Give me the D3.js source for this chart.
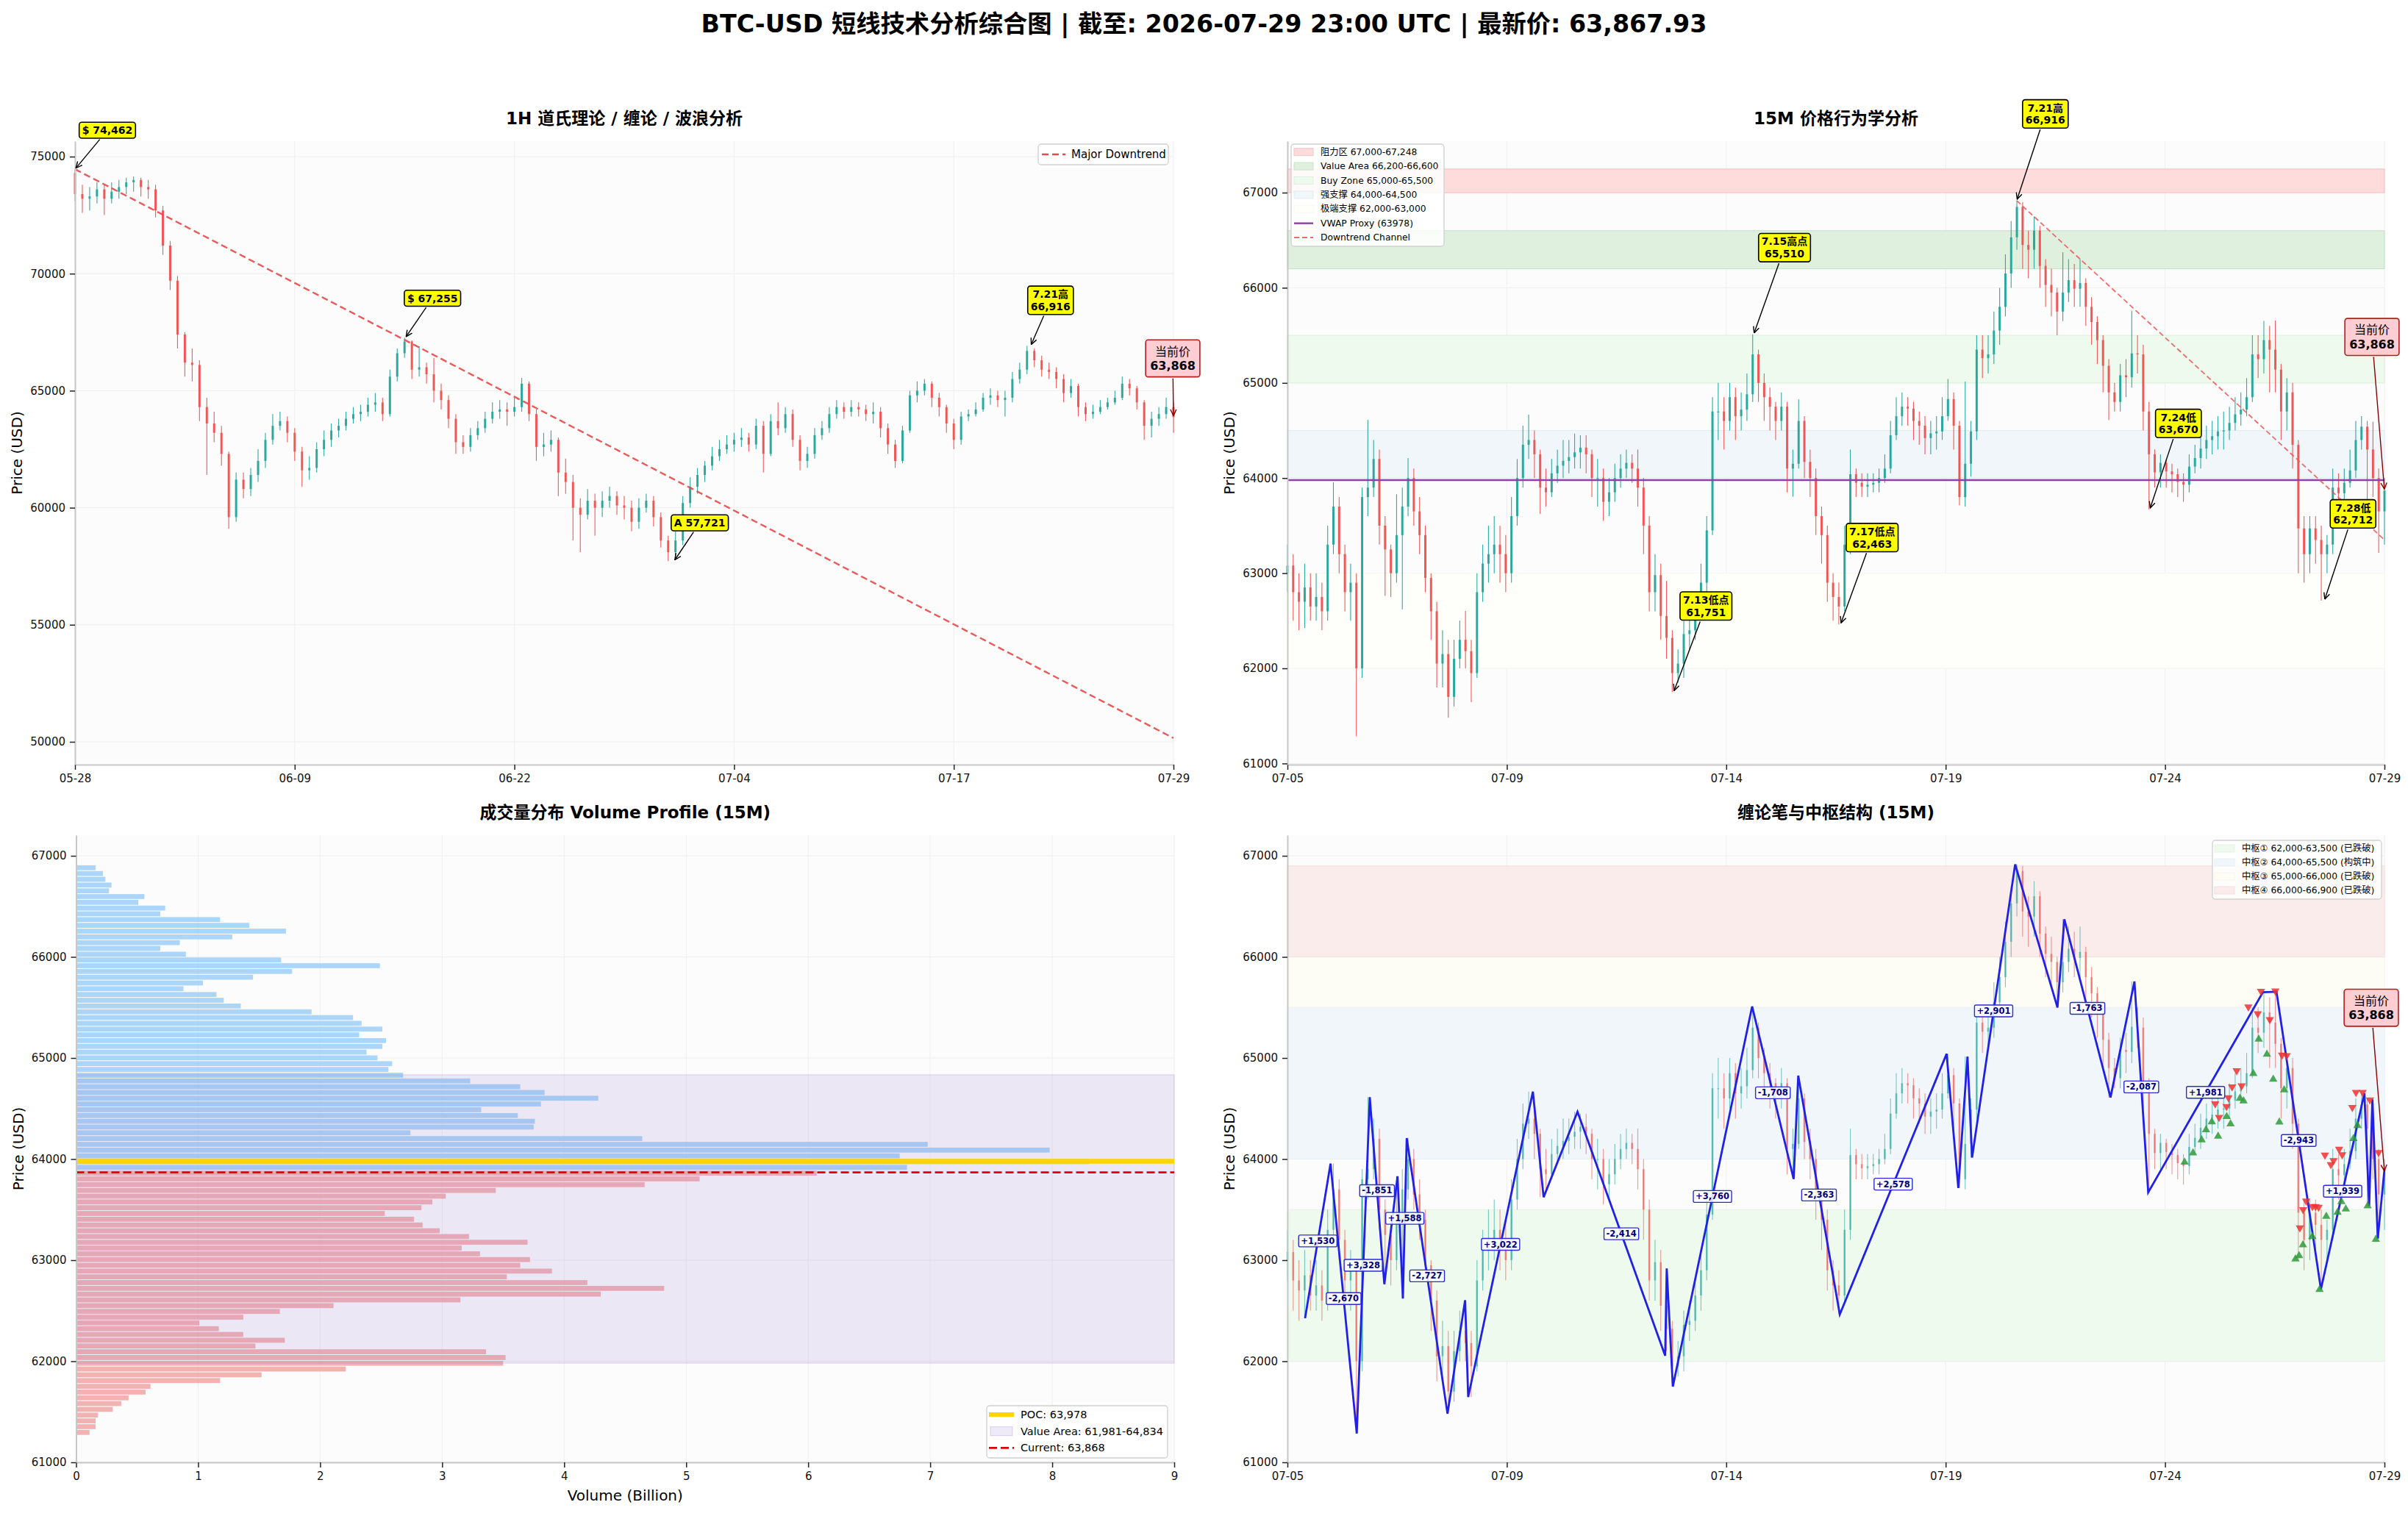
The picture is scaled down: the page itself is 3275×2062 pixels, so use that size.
<!DOCTYPE html>
<html><head><meta charset="utf-8">
<script src="https://cdn.jsdelivr.net/npm/d3@7"></script>
<style>body{margin:0;background:#fff}</style>
</head><body>
<script>
// ===================== DATA =====================
const mainTitle = "BTC-USD 短线技术分析综合图 | 截至: 2026-07-29 23:00 UTC | 最新价: 63,867.93";
const panelTitles = ["1H 道氏理论 / 缠论 / 波浪分析", "15M 价格行为学分析", "成交量分布 Volume Profile (15M)", "缠论笔与中枢结构 (15M)"];

// 1H candles (each step = 10 hours), open = previous close
const h1Ticks = ["05-28","06-09","06-22","07-04","07-17","07-29"];
const h1Open0 = 74300;
const h1Close = [73400,73200,73300,73600,73200,73500,73700,73900,74000,73700,
73600,72700,71200,69700,67400,66200,66100,64300,63600,63200,
62300,59600,61200,60800,61400,62000,62900,63500,63700,63200,
62400,61600,61700,62500,62900,63300,63500,63800,64000,64100,
64400,64500,64000,65600,66600,67100,65900,66000,65700,65000,
64600,63800,62800,62600,63100,63400,63800,64100,64200,64100,
64300,65300,64000,62600,62700,62900,61500,61100,60000,59700,
60300,60000,60300,60500,60100,60000,59400,60000,60300,59600,
58600,58100,58600,60200,60900,61400,61800,62200,62500,62700,
62900,63000,62700,63500,62300,63700,63400,64000,62900,62000,
62300,63100,63400,64000,64300,64100,64300,64200,64000,64100,
63400,62700,62000,63300,64800,65000,65300,64700,64300,63600,
62900,63900,64000,64200,64700,64800,64600,64700,65500,65900,
66700,66300,65900,65800,65500,64900,65200,64300,64000,64100,
64300,64500,64700,65300,65100,64500,63500,63800,64000,64300,
63868];
const h1High = [74462,73800,73700,73900,73800,73900,74000,74100,74150,74100,
74000,73800,72900,71400,69900,67500,66800,66300,64700,64100,
63500,62400,61500,61500,61700,62500,63200,64000,64100,63900,
63400,62600,62200,62800,63300,63600,63800,64100,64300,64400,
64700,64900,64700,65900,66800,67255,67150,66900,66200,66400,
65300,64800,64000,63100,63400,63700,64100,64500,64600,64500,
64700,65550,65400,64200,63200,63300,63000,62100,61400,60400,
60800,60600,60700,60900,60700,60500,60300,60400,60600,60500,
59800,58800,59000,60500,61300,61700,62000,62600,62900,63100,
63200,63400,63200,63800,63700,64000,64500,64300,64200,63100,
62600,63400,63700,64300,64600,64500,64600,64500,64400,64500,
64300,63600,62900,63500,65000,65400,65500,65400,64900,64400,
63800,64100,64200,64500,64900,65100,65000,65000,65800,66200,
66916,66800,66500,66200,66000,65700,65500,65300,64500,64400,
64600,64700,65000,65600,65500,65200,64600,64100,64300,64700,
64500];
const h1Low = [73100,72600,72700,73000,72500,73000,73200,73400,73500,73300,
73200,72400,70800,69300,66800,65600,65400,63700,61400,62800,
61800,59100,59400,60400,60500,61100,61700,62700,63300,62800,
62000,60900,61200,61500,62200,62600,63000,63300,63600,63700,
63900,64100,63700,63900,65400,66400,65500,65600,65300,64500,
64200,63400,62300,62300,62400,62900,63200,63600,63800,63500,
63900,64100,63700,62000,62200,62400,60500,60600,58600,58100,
59500,58800,59600,60000,59700,59500,59000,59100,59800,59200,
58300,57721,57900,58400,60000,60600,61100,61600,62000,62300,
62400,62600,62400,62500,61500,62200,63100,63200,62600,61600,
61700,62100,62900,63200,63800,63800,63900,63900,63700,63600,
63000,62300,61700,61900,63200,64500,64800,64300,63900,63200,
62500,62700,63700,63900,64100,64400,64300,63900,64500,65300,
65700,66000,65600,65500,65100,64500,64700,63900,63700,63800,
64000,64200,64400,64600,64800,64200,62900,63000,63500,63800,
63200];
const h1Trend = [74462, 50160];          // major downtrend value at first / last candle
const h1Notes = [
  {h:0, v:74462, lines:["$ 74,462"]},
  {h:451, v:67255, lines:["$ 67,255"]},
  {h:1305, v:66916, lines:["7.21高","66,916"]},
  {h:818, v:57721, lines:["A 57,721"]}
];
const lastPrice = 63868;

// 15M candles (each step = 3 hours), open = previous close
const m15Ticks = ["07-05","07-09","07-14","07-19","07-24","07-29"];
const m15Open0 = 63000;
const m15Close = [63080,62800,62700,62850,62650,62750,62600,63300,63700,63200,
62800,62900,62000,63800,63900,64200,63500,63250,63000,63400,
63700,64000,63650,63400,62950,62600,62050,62150,61700,62100,
62300,62180,61950,62800,63100,63200,63300,63200,63000,63600,
64000,64350,64400,64250,63900,63850,64050,64130,64180,64220,
64270,64320,64250,64000,64000,63750,63850,64000,64100,64160,
64100,63900,63500,62800,62980,62550,62320,61950,62050,62360,
62400,62650,62900,63450,64700,64700,64600,64850,64650,64720,
64880,65300,65000,64850,64750,64600,64750,64100,64150,64600,
64170,64000,63600,63400,62900,62750,62650,63300,64040,63950,
63910,63930,63950,64000,64100,64450,64650,64750,64730,64600,
64550,64420,64470,64490,64650,64830,64550,63800,64150,64490,
65350,65260,65300,65550,65800,66150,66530,66850,66450,66400,
66600,66230,66030,65950,65750,65950,66080,65990,66050,65800,
65640,65450,65180,64900,64800,65080,65060,65310,65300,64700,
64250,64060,64160,64070,64040,63960,63930,64120,64210,64310,
64400,64440,64490,64500,64580,64670,64720,64850,65300,65250,
65450,65350,65140,64700,64900,64350,63470,63200,63470,63350,
63200,63300,63900,63840,63950,64080,64400,64540,64300,64000,
63650,63868];
const m15High = [63300,63200,63000,63100,63000,63000,62900,63500,63955,63800,
63300,63100,63000,63900,64613,64400,64300,63600,63300,63830,
63900,64210,64100,63800,63500,63000,62700,62400,62300,62300,
62500,62604,62300,63000,63300,63500,63600,63500,63400,63800,
64200,64550,64667,64500,64300,64100,64200,64300,64400,64400,
64468,64450,64450,64300,64200,64100,64000,64150,64250,64300,
64250,64300,64000,63600,63200,63100,62918,62400,62200,62500,
62600,62800,63100,63600,64850,65000,64850,65000,64950,64900,
65100,65510,65350,65100,64950,64800,64900,64800,64300,64826,
64650,64300,64100,63700,63500,63000,62900,63500,64300,64100,
64050,64050,64050,64100,64250,64600,64850,64900,64850,64800,
64700,64650,64600,64650,64850,65041,64900,64600,65014,64600,
65500,65500,65500,65750,66000,66350,66700,66916,66900,66600,
66750,66650,66300,66200,66000,66373,66300,66250,66300,66100,
65900,65700,65500,65250,65000,65200,65250,65757,65500,65400,
64800,64300,64250,64200,64150,64100,64050,64250,64350,64450,
64550,64600,64650,64700,64750,64850,64900,65050,65500,65500,
65651,65600,65655,65200,65050,65000,64400,63600,63600,63600,
63500,63400,64100,64050,64100,64300,64600,64651,64600,64591,
64100,64000];
const m15Low = [62800,62500,62400,62425,62500,62500,62400,62500,63200,63000,
62600,62500,61285,61900,63600,63800,63300,62762,62750,62900,
62620,63600,63500,63200,62800,62300,61800,61800,61480,61600,
62000,62000,61645,61900,62700,62900,63000,62900,62800,62900,
63500,63900,64200,64000,63623,63700,63800,63950,64000,64050,
64100,64100,64050,63800,63700,63550,63600,63750,63900,64000,
63950,63700,63200,62600,62600,62300,62100,61751,61850,61900,
62200,62300,62500,62800,63400,64400,64300,64500,64400,64500,
64600,64800,64800,64600,64500,64400,64500,63850,63805,64100,
64000,63800,63400,63100,62700,62500,62463,62600,63200,63800,
63800,63800,63850,63850,63950,64050,64400,64550,64550,64400,
64350,64250,64250,64300,64400,64600,64300,63714,63700,64015,
64400,65050,65100,65200,65400,65700,66000,66400,66200,66100,
66200,66000,65800,65700,65500,65650,65850,65800,65800,65600,
65400,65200,64900,64610,64700,64700,64850,64950,65100,64500,
63670,63900,63900,63900,63850,63800,63750,63850,64050,64100,
64200,64250,64300,64300,64400,64500,64550,64650,64800,65050,
65100,64900,64900,64400,64500,64100,63000,62900,63000,63100,
62712,63000,63200,63600,63700,63900,64000,64300,63536,63800,
63214,63300];

// 15M price-action zones
const paZones = [
  {lo:67000, hi:67248, label:"阻力区 67,000-67,248"},
  {lo:66200, hi:66600, label:"Value Area 66,200-66,600"},
  {lo:65000, hi:65500, label:"Buy Zone 65,000-65,500"},
  {lo:64000, hi:64500, label:"强支撑 64,000-64,500"},
  {lo:62000, hi:63000, label:"极端支撑 62,000-63,000"}
];
const vwap = 63978;
const paChannel = [{h:380.9, v:66916}, {h:573, v:63350}];
const paNotes = [
  {h:380.9, v:66916, lines:["7.21高","66,916"]},
  {h:243.5, v:65510, lines:["7.15高点","65,510"]},
  {h:201.7, v:61751, lines:["7.13低点","61,751"]},
  {h:288.9, v:62463, lines:["7.17低点","62,463"]},
  {h:450.4, v:63670, lines:["7.24低","63,670"]},
  {h:541.6, v:62712, lines:["7.28低","62,712"]}
];

// Volume profile (bins bottom -> top, billions)
const vpFirstCenter = 61296, vpStep = 57;
const vpVolume = [0.11,0.16,0.16,0.18,0.30,0.37,0.43,0.57,0.61,1.18,
1.52,2.21,3.50,3.52,3.36,1.47,1.71,1.37,1.17,1.01,
1.37,1.67,2.11,3.15,4.30,4.82,4.19,3.53,3.90,3.64,
3.72,3.31,3.16,3.70,3.22,2.98,2.84,2.77,2.53,2.83,
2.92,3.03,3.44,4.66,5.11,6.07,6.81,8.30,6.75,7.98,
6.98,4.64,2.74,3.75,3.76,3.62,3.32,3.81,4.28,3.84,
3.64,3.23,2.68,2.56,2.59,2.47,2.38,2.51,2.54,2.32,
2.51,2.34,2.27,1.93,1.35,1.21,1.15,0.88,1.04,1.45,
1.77,2.49,1.68,0.90,0.69,0.85,1.28,1.72,1.42,1.18,
0.69,0.73,0.51,0.56,0.27,0.29,0.24,0.22,0.16];
const vpPoc = 63978;
const vpValueArea = [61981, 64834];
const vpXTicks = [0,1,2,3,4,5,6,7,8,9];

// Chan theory: zhongshu zones, pens, fractals
const chanZones = [
  {lo:62000, hi:63500, label:"中枢① 62,000-63,500 (已跌破)"},
  {lo:64000, hi:65500, label:"中枢② 64,000-65,500 (构筑中)"},
  {lo:65000, hi:66000, label:"中枢③ 65,000-66,000 (已跌破)"},
  {lo:66000, hi:66900, label:"中枢④ 66,000-66,900 (已跌破)"}
];
const penHours = [9.2,22.5,36.2,43.0,50.6,57.5,60.3,62.3,83.6,92.8,94.4,128.2,133.8,151.5,197.3,198.1,201.3,242.7,264.4,266.8,288.5,344.3,350.4,355.2,357.6,380.1,402.2,405.8,429.9,442.4,449.6,509.5,516.6,539.8,562.5,565.0,566.7,569.5,573];
const penValues = [62425,63955,61285,64613,62762,63830,62620,64208,61481,62604,61645,64667,63623,64468,62054,62918,61750,65510,63802,64826,62463,65041,63714,65014,64015,66916,65500,66373,64610,65757,63670,65651,65655,62712,64651,63536,64591,63214,63900];
const penLabels = [
  {seg:0,text:"+1,530"},{seg:1,text:"-2,670"},{seg:2,text:"+3,328"},{seg:3,text:"-1,851"},
  {seg:6,text:"+1,588"},{seg:7,text:"-2,727"},{seg:10,text:"+3,022"},{seg:13,text:"-2,414"},
  {seg:16,text:"+3,760"},{seg:17,text:"-1,708"},{seg:19,text:"-2,363"},{seg:20,text:"+2,578"},
  {seg:24,text:"+2,901"},{seg:27,text:"-1,763"},{seg:29,text:"-2,087"},{seg:30,text:"+1,981"},
  {seg:32,text:"-2,943"},{seg:33,text:"+1,939"}
];
const fractalTops = [[484.6,64547],[486.6,64413],[490.5,64521],[491.5,64608],[493.4,64715],[495.8,64874],[498.4,64725],[501.9,65505],[506.8,65439],[508.5,65660],[513.1,65381],[516.0,65663],[519.5,65030],[521.9,65024],[528.8,63320],[530.5,63500],[532.1,63585],[535.4,63531],[537.0,63531],[538.6,63524],[541.9,64040],[545.0,63945],[546.4,63985],[549.3,64098],[550.9,64044],[556.2,64511],[558.1,64660],[561.6,64660],[565.4,64585],[569.9,64066]];
const fractalBottoms = [[468.6,63969],[473.0,64060],[477.5,64190],[479.8,64290],[482.8,64368],[486.1,64225],[490.6,64420],[492.6,64348],[497.5,64601],[499.4,64575],[504.5,64845],[507.3,65186],[511.6,65037],[514.9,64790],[518.1,64365],[520.6,64683],[526.5,63011],[528.4,63044],[530.4,63151],[535.3,63232],[539.1,62709],[542.6,63433],[548.5,63472],[550.5,63579],[552.8,63505],[556.8,64202],[558.9,64332],[564.2,63537],[568.5,63206]];

// ===================== LAYOUT / STYLE =====================
const W = 3275, H = 2062;
const FONT = '"DejaVu Sans","Noto Sans CJK SC",sans-serif';
const UP = "#26a69a", DOWN = "#ef5350";
const P = {
  tl:{l:102, r:1596, t:192, b:1040},
  tr:{l:1751, r:3243, t:192, b:1040},
  bl:{l:103.5, r:1597, t:1136, b:1989},
  br:{l:1751, r:3243, t:1136, b:1989}
};
const h1Span = (h1Close.length - 1) * 10;      // hours
const m15Span = (m15Close.length - 1) * 3;    // hours
const paZoneStyle = [
  {fill:"#ffdcdc", edge:"#f6c4c4"}, {fill:"#dff0df", edge:"#c9e3c9"},
  {fill:"#eefaee", edge:"#def1de"}, {fill:"#f0f6f9", edge:"#e3edf2"},
  {fill:"#fefefa", edge:"#f8f8ee"}
];
const chanZoneStyle = [
  {fill:"#effaef", edge:"#e4f3e4"}, {fill:"#f1f6fa", edge:"#e7eff5"},
  {fill:"#fdfdf5", edge:"#f6f6ea"}, {fill:"#fbecec", edge:"#f4dede"}
];
// annotation box offsets (px) relative to the annotated point
const h1NoteOffset = [[44,-53],[37,-54],[27,-62],[35,-52]];
const paNoteOffset = [[39,-118],[42,-118],[44,-117],[43,-118],[39,-117],[39,-118]];

// ===================== DRAW =====================
const svg = d3.select("body").append("svg").attr("width", W).attr("height", H)
  .style("font-family", FONT);
svg.append("rect").attr("width", W).attr("height", H).attr("fill", "#fff");
const defs = svg.append("defs");
function marker(id, color) {
  defs.append("marker").attr("id", id).attr("viewBox", "0 0 10 10")
    .attr("refX", 9.5).attr("refY", 5).attr("markerWidth", 10).attr("markerHeight", 10)
    .attr("markerUnits", "userSpaceOnUse").attr("orient", "auto")
    .append("path").attr("d", "M1,1 L9.5,5 L1,9").attr("fill", "none")
    .attr("stroke", color).attr("stroke-width", 1.4);
}
marker("arK", "#000"); marker("arR", "#8b0000");

svg.append("text").attr("x", W / 2).attr("y", 32).attr("text-anchor", "middle")
  .attr("dominant-baseline", "central").attr("font-size", 33.3).attr("font-weight", "bold")
  .text(mainTitle);

function frame(p, x, y, xt, xlab, yt, title, ylabel) {
  const g = svg.append("g");
  g.append("rect").attr("x", p.l).attr("y", p.t).attr("width", p.r - p.l).attr("height", p.b - p.t).attr("fill", "#fcfcfc");
  const grid = g.append("g").attr("stroke", "#efefef").attr("stroke-width", 1);
  xt.forEach(v => grid.append("line").attr("x1", x(v)).attr("x2", x(v)).attr("y1", p.t).attr("y2", p.b));
  yt.forEach(v => grid.append("line").attr("y1", y(v)).attr("y2", y(v)).attr("x1", p.l).attr("x2", p.r));
  svg.append("text").attr("x", (p.l + p.r) / 2).attr("y", p.t - 31).attr("text-anchor", "middle")
    .attr("dominant-baseline", "central").attr("font-size", 23).attr("font-weight", "bold").text(title);
  svg.append("text").attr("transform", `translate(${p.l - 79},${(p.t + p.b) / 2}) rotate(-90)`)
    .attr("text-anchor", "middle").attr("dominant-baseline", "central").attr("font-size", 20).text(ylabel);
  return g;
}
function axes(p, x, y, xt, xlab, yt) {
  const ax = svg.append("g").attr("transform", `translate(0,${p.b})`)
    .call(d3.axisBottom(x).tickValues(xt).tickFormat((d, i) => xlab[i]).tickSize(7).tickSizeOuter(0).tickPadding(6));
  const ay = svg.append("g").attr("transform", `translate(${p.l},0)`)
    .call(d3.axisLeft(y).tickValues(yt).tickFormat(d => d).tickSize(7).tickSizeOuter(0).tickPadding(6));
  [ax, ay].forEach(a => {
    a.select(".domain").attr("stroke", "#c8c8c8").attr("stroke-width", 2);
    a.selectAll(".tick line").attr("stroke", "#222").attr("stroke-width", 1.5);
    a.selectAll(".tick text").attr("font-size", 15).attr("fill", "#111").attr("font-family", FONT);
  });
}
function candles(g, x, y, step, open0, close, high, low, bw, op) {
  close.forEach((c, i) => {
    const o = i === 0 ? open0 : close[i - 1];
    const col = c >= o ? UP : DOWN;
    const xx = x(i * step);
    const hi = Math.max(high[i], o, c), lo = Math.min(low[i], o, c);
    g.append("line").attr("x1", xx).attr("x2", xx).attr("y1", y(hi)).attr("y2", y(lo))
      .attr("stroke", col).attr("stroke-width", 1.1).attr("opacity", op);
    const y1 = y(Math.max(o, c)), y2 = y(Math.min(o, c));
    g.append("rect").attr("x", xx - bw / 2).attr("y", y1).attr("width", bw)
      .attr("height", Math.max(1.2, y2 - y1)).attr("fill", col).attr("opacity", op);
  });
}
function annotate(px, py, lines, dx, dy, st) {
  const g = svg.append("g");
  const cx = px + dx, cy = py + dy, lh = st.size * 1.2, n = lines.length;
  const rect = g.append("rect");
  const t = g.append("text").attr("text-anchor", "middle").attr("font-size", st.size).attr("fill", "#000");
  lines.forEach((s, k) => t.append("tspan").attr("x", cx)
    .attr("y", cy + (k - (n - 1) / 2) * lh + st.size * 0.36)
    .attr("font-weight", (st.firstNormal && k === 0) ? "normal" : "bold").text(s));
  const bb = t.node().getBBox();
  const w = bb.width + 2 * st.px, h = n * lh + 2 * st.py;
  rect.attr("x", cx - w / 2).attr("y", cy - h / 2).attr("width", w).attr("height", h)
    .attr("rx", 3.5).attr("fill", st.fill).attr("stroke", st.stroke).attr("stroke-width", 1.6);
  const vx = px - cx, vy = py - cy;
  const tt = Math.min(Math.abs((w / 2) / (vx || 1e-9)), Math.abs((h / 2) / (vy || 1e-9)));
  const sx = cx + vx * tt, sy = cy + vy * tt;
  const len = Math.hypot(px - sx, py - sy), ux = (px - sx) / len, uy = (py - sy) / len;
  g.append("line").attr("x1", sx + ux * 2).attr("y1", sy + uy * 2).attr("x2", px - ux * 2).attr("y2", py - uy * 2)
    .attr("stroke", st.arrow).attr("stroke-width", 1.4).attr("marker-end", `url(#${st.marker})`);
}
const yellowStyle = {size:14, fill:"#ffff00", stroke:"#000", px:4, py:2.5, arrow:"#000", marker:"arK"};
const currentStyle = {size:16, fill:"#ffcdd2", stroke:"#b71c1c", px:6, py:6, arrow:"#8b0000", marker:"arR", firstNormal:true};
function legendBox(x0, y0, w, h) {
  svg.append("rect").attr("x", x0).attr("y", y0).attr("width", w).attr("height", h).attr("rx", 4)
    .attr("fill", "#fff").attr("fill-opacity", 0.85).attr("stroke", "#d0d0d0").attr("stroke-width", 1.3);
}

// ---------- Panel 1: 1H ----------
{
  const p = P.tl;
  const x = d3.scaleLinear().domain([0, h1Span]).range([p.l, p.r]);
  const y = d3.scaleLinear().domain([49026, 75660]).range([p.b, p.t]);
  const xt = h1Ticks.map((d, i) => i * h1Span / (h1Ticks.length - 1));
  const yt = [50000, 55000, 60000, 65000, 70000, 75000];
  const g = frame(p, x, y, xt, h1Ticks, yt, panelTitles[0], "Price (USD)");
  candles(g, x, y, 10, h1Open0, h1Close, h1High, h1Low, 3, 0.95);
  svg.append("line").attr("x1", x(0)).attr("y1", y(h1Trend[0])).attr("x2", x(h1Span)).attr("y2", y(h1Trend[1]))
    .attr("stroke", "#e84a4a").attr("stroke-width", 2.4).attr("stroke-dasharray", "9,5").attr("opacity", 0.9);
  axes(p, x, y, xt, h1Ticks, yt);
  h1Notes.forEach((n, i) => annotate(x(n.h), y(n.v), n.lines, h1NoteOffset[i][0], h1NoteOffset[i][1], yellowStyle));
  annotate(x(h1Span), y(lastPrice), ["当前价", "63,868"], -1, -80, currentStyle);
  legendBox(1412, 196, 177, 28);
  svg.append("line").attr("x1", 1417).attr("x2", 1449).attr("y1", 210).attr("y2", 210)
    .attr("stroke", "#e84a4a").attr("stroke-width", 2.4).attr("stroke-dasharray", "9,5");
  svg.append("text").attr("x", 1457).attr("y", 210).attr("dominant-baseline", "central").attr("font-size", 15).text("Major Downtrend");
}

// ---------- Panel 2: 15M price action ----------
{
  const p = P.tr;
  const x = d3.scaleLinear().domain([0, m15Span]).range([p.l, p.r]);
  const y = d3.scaleLinear().domain([60988, 67541]).range([p.b, p.t]);
  const xt = m15Ticks.map((d, i) => i * m15Span / (m15Ticks.length - 1));
  const yt = [61000, 62000, 63000, 64000, 65000, 66000, 67000];
  const g = frame(p, x, y, xt, m15Ticks, yt, panelTitles[1], "Price (USD)");
  paZones.forEach((z, i) => {
    g.append("rect").attr("x", p.l).attr("width", p.r - p.l).attr("y", y(z.hi)).attr("height", y(z.lo) - y(z.hi))
      .attr("fill", paZoneStyle[i].fill).attr("stroke", paZoneStyle[i].edge).attr("stroke-width", 1.2);
  });
  candles(g, x, y, 3, m15Open0, m15Close, m15High, m15Low, 3, 0.95);
  svg.append("line").attr("x1", p.l).attr("x2", p.r).attr("y1", y(vwap)).attr("y2", y(vwap))
    .attr("stroke", "#8e3fa8").attr("stroke-width", 2.4);
  svg.append("line").attr("x1", x(paChannel[0].h)).attr("y1", y(paChannel[0].v))
    .attr("x2", x(paChannel[1].h)).attr("y2", y(paChannel[1].v))
    .attr("stroke", "#ee5555").attr("stroke-width", 1.8).attr("stroke-dasharray", "7,4").attr("opacity", 0.85);
  axes(p, x, y, xt, m15Ticks, yt);
  paNotes.forEach((n, i) => annotate(x(n.h), y(n.v), n.lines, paNoteOffset[i][0], paNoteOffset[i][1], yellowStyle));
  annotate(x(m15Span), y(lastPrice), ["当前价", "63,868"], -17, -209, currentStyle);
  // legend
  legendBox(1756, 196, 208, 139);
  paZones.forEach((z, i) => {
    const yy = 206.7 + i * 19.4;
    svg.append("rect").attr("x", 1760).attr("y", yy - 5).attr("width", 26).attr("height", 10)
      .attr("fill", paZoneStyle[i].fill).attr("stroke", paZoneStyle[i].edge);
    svg.append("text").attr("x", 1796).attr("y", yy).attr("dominant-baseline", "central").attr("font-size", 12.3).text(z.label);
  });
  const y6 = 206.7 + 5 * 19.4, y7 = 206.7 + 6 * 19.4;
  svg.append("line").attr("x1", 1760).attr("x2", 1786).attr("y1", y6).attr("y2", y6).attr("stroke", "#8e3fa8").attr("stroke-width", 2.4);
  svg.append("text").attr("x", 1796).attr("y", y6).attr("dominant-baseline", "central").attr("font-size", 12.3).text("VWAP Proxy (" + vwap + ")");
  svg.append("line").attr("x1", 1760).attr("x2", 1786).attr("y1", y7).attr("y2", y7).attr("stroke", "#ee5555").attr("stroke-width", 1.8).attr("stroke-dasharray", "7,4");
  svg.append("text").attr("x", 1796).attr("y", y7).attr("dominant-baseline", "central").attr("font-size", 12.3).text("Downtrend Channel");
}

// ---------- Panel 3: Volume profile ----------
{
  const p = P.bl;
  const x = d3.scaleLinear().domain([0, 9]).range([p.l, p.r]);
  const y = d3.scaleLinear().domain([61000, 67204]).range([p.b, p.t]);
  const yt = [61000, 62000, 63000, 64000, 65000, 66000, 67000];
  const g = frame(p, x, y, vpXTicks, vpXTicks.map(String), yt, panelTitles[2], "Price (USD)");
  const bh = Math.abs(y(0) - y(vpStep)) * 0.86;
  vpVolume.forEach((v, i) => {
    const c = vpFirstCenter + i * vpStep;
    g.append("rect").attr("x", x(0)).attr("y", y(c) - bh / 2).attr("width", x(v) - x(0)).attr("height", bh)
      .attr("fill", c > lastPrice ? "#90caf9" : "#ef9a9a").attr("opacity", 0.75);
  });
  g.append("rect").attr("x", p.l).attr("width", p.r - p.l).attr("y", y(vpValueArea[1]))
    .attr("height", y(vpValueArea[0]) - y(vpValueArea[1]))
    .attr("fill", "rgba(149,117,205,0.15)").attr("stroke", "rgba(149,117,205,0.3)").attr("stroke-width", 1);
  svg.append("line").attr("x1", p.l).attr("x2", p.r).attr("y1", y(vpPoc)).attr("y2", y(vpPoc))
    .attr("stroke", "#ffd400").attr("stroke-width", 6.5);
  svg.append("line").attr("x1", p.l).attr("x2", p.r).attr("y1", y(lastPrice)).attr("y2", y(lastPrice))
    .attr("stroke", "#e00000").attr("stroke-width", 2.8).attr("stroke-dasharray", "11,5");
  axes(p, x, y, vpXTicks, vpXTicks.map(String), yt);
  svg.append("text").attr("x", (p.l + p.r) / 2).attr("y", 2034).attr("text-anchor", "middle")
    .attr("dominant-baseline", "central").attr("font-size", 20).text("Volume (Billion)");
  legendBox(1342, 1912, 246, 71);
  const ly = [1924, 1946.7, 1969.3];
  svg.append("line").attr("x1", 1345).attr("x2", 1379).attr("y1", ly[0]).attr("y2", ly[0]).attr("stroke", "#ffd400").attr("stroke-width", 6);
  svg.append("rect").attr("x", 1347).attr("y", ly[1] - 6).attr("width", 30).attr("height", 12).attr("fill", "rgba(149,117,205,0.15)").attr("stroke", "rgba(149,117,205,0.3)");
  svg.append("line").attr("x1", 1345).attr("x2", 1379).attr("y1", ly[2]).attr("y2", ly[2]).attr("stroke", "#e00000").attr("stroke-width", 2.8).attr("stroke-dasharray", "11,5");
  ["POC: " + d3.format(",")(vpPoc), "Value Area: " + d3.format(",")(vpValueArea[0]) + "-" + d3.format(",")(vpValueArea[1]), "Current: " + d3.format(",")(lastPrice)]
    .forEach((s, i) => svg.append("text").attr("x", 1388).attr("y", ly[i]).attr("dominant-baseline", "central").attr("font-size", 14.5).text(s));
}

// ---------- Panel 4: Chan pens ----------
{
  const p = P.br;
  const x = d3.scaleLinear().domain([0, m15Span]).range([p.l, p.r]);
  const y = d3.scaleLinear().domain([61000, 67204]).range([p.b, p.t]);
  const xt = m15Ticks.map((d, i) => i * m15Span / (m15Ticks.length - 1));
  const yt = [61000, 62000, 63000, 64000, 65000, 66000, 67000];
  const g = frame(p, x, y, xt, m15Ticks, yt, panelTitles[3], "Price (USD)");
  [2, 3, 0, 1].forEach(i => {
    const z = chanZones[i];
    g.append("rect").attr("x", p.l).attr("width", p.r - p.l).attr("y", y(z.hi)).attr("height", y(z.lo) - y(z.hi))
      .attr("fill", chanZoneStyle[i].fill).attr("stroke", chanZoneStyle[i].edge).attr("stroke-width", 1);
  });
  candles(g, x, y, 3, m15Open0, m15Close, m15High, m15Low, 2.6, 0.6);
  const line = d3.line().x((d, i) => x(penHours[i])).y(d => y(d));
  svg.append("path").attr("d", line(penValues)).attr("fill", "none").attr("stroke", "#2020e6").attr("stroke-width", 2.8).attr("stroke-linejoin", "miter");
  const tri = d3.symbol().type(d3.symbolTriangle).size(55);
  fractalTops.forEach(d => svg.append("path").attr("d", tri()).attr("fill", "#f03030").attr("opacity", 0.85)
    .attr("transform", `translate(${x(d[0])},${y(d[1])}) rotate(180)`));
  fractalBottoms.forEach(d => svg.append("path").attr("d", tri()).attr("fill", "#2e9a3a").attr("opacity", 0.85)
    .attr("transform", `translate(${x(d[0])},${y(d[1])})`));
  penLabels.forEach(l => {
    const k = l.seg;
    const mx = (x(penHours[k]) + x(penHours[k + 1])) / 2, my = (y(penValues[k]) + y(penValues[k + 1])) / 2;
    const lg = svg.append("g");
    const r = lg.append("rect");
    const t = lg.append("text").attr("x", mx).attr("y", my).attr("text-anchor", "middle").attr("dominant-baseline", "central")
      .attr("font-size", 11.5).attr("font-weight", "bold").attr("fill", "#000080").text(l.text);
    const w = t.node().getComputedTextLength() + 6, h = 16;
    r.attr("x", mx - w / 2).attr("y", my - h / 2).attr("width", w).attr("height", h).attr("rx", 2)
      .attr("fill", "#fff").attr("fill-opacity", 0.85).attr("stroke", "#2a2ad8").attr("stroke-width", 1.4);
  });
  axes(p, x, y, xt, m15Ticks, yt);
  annotate(x(m15Span), y(lastPrice), ["当前价", "63,868"], -18, -224, currentStyle);
  legendBox(3009, 1143, 230, 80);
  chanZones.forEach((z, i) => {
    const yy = 1154 + i * 19;
    svg.append("rect").attr("x", 3012).attr("y", yy - 5).attr("width", 27).attr("height", 10)
      .attr("fill", chanZoneStyle[i].fill).attr("stroke", chanZoneStyle[i].edge);
    svg.append("text").attr("x", 3049).attr("y", yy).attr("dominant-baseline", "central").attr("font-size", 12.3).text(z.label);
  });
}
</script>
</body></html>
